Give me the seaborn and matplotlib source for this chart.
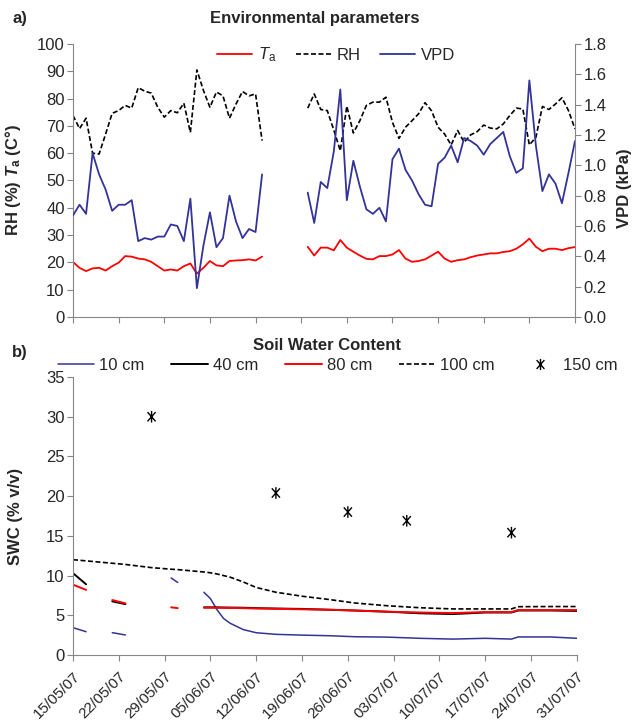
import numpy as np
import pandas as pd
import matplotlib
matplotlib.use('Agg')
import matplotlib.pyplot as plt
import matplotlib.dates as mdates
from matplotlib.lines import Line2D
from matplotlib.path import Path
import seaborn as sns

start = pd.Timestamp('2007-05-15')

# Environmental parameters, daily values, two measuring periods
env_days_1 = list(range(0, 30))    # 15/05 - 13/06
env_days_2 = list(range(36, 78))   # 20/06 - 31/07
ta_1 = [20.1, 18.0, 16.8, 17.8, 18.0, 17.0, 18.6, 19.9, 22.3, 22.1, 21.4, 21.1, 20.2, 18.6, 17.0,
        17.4, 17.0, 18.6, 19.6, 15.9, 18.0, 20.5, 18.9, 18.6, 20.5, 20.7, 20.8, 21.1, 20.7, 22.1]
ta_2 = [25.7, 22.5, 25.4, 25.4, 24.4, 28.2, 25.4, 23.9, 22.5, 21.3, 21.1, 22.3, 22.3, 22.9, 24.5,
        21.4, 20.2, 20.5, 21.1, 22.5, 23.9, 21.4, 20.2, 20.8, 21.1, 21.9, 22.5, 22.9, 23.3, 23.3,
        23.8, 24.1, 25.0, 26.6, 28.7, 25.7, 24.1, 25.0, 25.0, 24.5, 25.2, 25.6]
rh_1 = [73.8, 69.0, 72.8, 60.0, 59.7, 67.0, 74.6, 75.6, 77.5, 76.5, 84.0, 82.7, 82.0, 76.8, 73.2,
        75.6, 74.8, 78.3, 67.6, 90.5, 83.0, 76.8, 82.4, 81.0, 72.8, 78.0, 82.6, 81.0, 81.7, 64.6]
rh_2 = [76.5, 81.7, 76.0, 75.6, 68.5, 60.9, 77.2, 67.4, 71.9, 77.5, 78.7, 78.7, 80.5, 71.3, 65.4,
        69.5, 71.9, 74.4, 78.5, 75.5, 69.5, 67.0, 63.0, 68.3, 64.0, 66.7, 67.9, 70.3, 69.2, 68.9,
        70.7, 73.8, 76.5, 76.2, 63.0, 65.8, 77.1, 76.0, 78.0, 80.3, 75.6, 68.9]
vpd_1 = [0.67, 0.74, 0.68, 1.08, 0.94, 0.84, 0.70, 0.74, 0.74, 0.77, 0.50, 0.52, 0.51, 0.53, 0.53,
         0.61, 0.60, 0.50, 0.78, 0.19, 0.47, 0.69, 0.46, 0.52, 0.80, 0.63, 0.52, 0.58, 0.56, 0.94]
vpd_2 = [0.82, 0.62, 0.89, 0.85, 1.09, 1.50, 0.77, 1.03, 0.86, 0.71, 0.68, 0.72, 0.63, 1.04, 1.11,
         0.97, 0.90, 0.81, 0.74, 0.73, 1.01, 1.05, 1.13, 1.02, 1.18, 1.16, 1.13, 1.07, 1.14, 1.18,
         1.22, 1.06, 0.95, 0.98, 1.56, 1.13, 0.83, 0.94, 0.88, 0.75, 0.95, 1.16]

# Soil water content (nan = no data)
nan = np.nan
swc_days = [0, 2, 4, 6, 8, 12, 15, 16, 18, 20, 21, 22, 23, 24, 26, 28, 31, 35, 39, 43, 48, 53,
            58, 63, 67, 68, 73, 77]
swc_10 = [3.44, 2.93, nan, 2.81, 2.52, nan, 9.7, 9.13, nan, 7.9, 7.1, 5.7, 4.6, 4.0, 3.2, 2.8,
          2.6, 2.5, 2.43, 2.3, 2.25, 2.1, 2.0, 2.1, 2.0, 2.27, 2.27, 2.1]
swc_40 = [10.3, 8.9, nan, 6.75, 6.4, nan, nan, nan, nan, 6.0, 6.0, 6.0, 5.98, 5.97, 5.95, 5.9,
          5.85, 5.8, 5.7, 5.6, 5.45, 5.25, 5.15, 5.35, 5.35, 5.6, 5.6, 5.55]
swc_80 = [8.85, 8.2, nan, 6.92, 6.5, nan, 6.0, 5.9, nan, 5.95, 5.95, 5.95, 5.93, 5.92, 5.9, 5.85,
          5.82, 5.75, 5.7, 5.6, 5.45, 5.35, 5.28, 5.4, 5.4, 5.66, 5.66, 5.66]
swc_100 = [12.0, 11.85, 11.7, 11.55, 11.4, 11.0, 10.8, 10.75, 10.6, 10.45, 10.35, 10.2, 10.0, 9.8,
           9.2, 8.5, 7.9, 7.4, 7.0, 6.55, 6.2, 5.95, 5.8, 5.8, 5.8, 6.08, 6.1, 6.1]
swc150_days = [12, 31, 42, 51, 67]
swc_150 = [30.0, 20.4, 18.0, 16.9, 15.4]

BLUE = '#333399'
RED = '#ff0000'
GREY = '#868686'
DASH = (0, (3, 1.5))
FS = 12

# Excel-like star marker: an X with a vertical bar through it
STAR = Path([(-0.7, -0.8), (0.7, 0.8), (-0.7, 0.8), (0.7, -0.8), (0, -1), (0, 1)],
            [Path.MOVETO, Path.LINETO, Path.MOVETO, Path.LINETO, Path.MOVETO, Path.LINETO])


def to_frame(days, values):
    v = np.array(values, dtype=float)
    df = pd.DataFrame({'date': start + pd.to_timedelta(days, unit='D'),
                       'value': v, 'seg': np.cumsum(np.isnan(v))})
    return df.dropna()


def env_frame(v1, v2):
    return pd.concat([to_frame(env_days_1, v1).assign(seg=0),
                      to_frame(env_days_2, v2).assign(seg=1)])


sns.set_style('ticks')
plt.rcParams['font.family'] = ['Liberation Sans', 'DejaVu Sans']
plt.rcParams['mathtext.fontset'] = 'custom'
plt.rcParams['mathtext.rm'] = 'Liberation Sans'
plt.rcParams['mathtext.it'] = 'Liberation Sans:italic'
plt.rcParams['mathtext.bf'] = 'Liberation Sans:bold'
plt.rcParams['mathtext.bfit'] = 'Liberation Sans:italic:bold'

fig = plt.figure(figsize=(6.35, 7.28), dpi=100)
ax = fig.add_axes([0.115, 0.5646, 0.7905, 0.375])
ax2 = ax.twinx()
axb = fig.add_axes([0.115, 0.1003, 0.7935, 0.3818])

line_kw = dict(x='date', y='value', units='seg', estimator=None, legend=False)

# a) environmental parameters
sns.lineplot(data=env_frame(ta_1, ta_2), color=RED, linewidth=1.3, ax=ax, **line_kw)
sns.lineplot(data=env_frame(rh_1, rh_2), color='black', linewidth=1.2, linestyle=DASH, ax=ax, **line_kw)
sns.lineplot(data=env_frame(vpd_1, vpd_2), color=BLUE, linewidth=1.3, ax=ax2, **line_kw)

# b) soil water content
sns.lineplot(data=to_frame(swc_days, swc_10), color=BLUE, linewidth=1.1, ax=axb, **line_kw)
sns.lineplot(data=to_frame(swc_days, swc_40), color='black', linewidth=1.4, ax=axb, **line_kw)
sns.lineplot(data=to_frame(swc_days, swc_80), color=RED, linewidth=1.4, ax=axb, **line_kw)
sns.lineplot(data=to_frame(swc_days, swc_100), color='black', linewidth=1.2, linestyle=DASH, ax=axb, **line_kw)
df150 = to_frame(swc150_days, swc_150)
sns.scatterplot(data=df150, x='date', y='value', marker=STAR, facecolor='none', edgecolor='black',
                s=70, linewidth=1.0, ax=axb, legend=False)

ticks = pd.date_range(start, periods=12, freq='7D')
for a in (ax, ax2, axb):
    a.set_xlim(start, start + pd.Timedelta(days=77))
    a.set_xticks(ticks)
    a.xaxis.set_major_formatter(mdates.DateFormatter('%d/%m/%y'))
    a.set_xlabel('')
    a.tick_params(direction='out', length=4, width=0.8, color=GREY, labelsize=FS, pad=2)
    a.spines['top'].set_visible(False)
    for s in a.spines.values():
        s.set_color(GREY)
        s.set_linewidth(0.8)

ax.tick_params(axis='x', labelbottom=False)
ax2.tick_params(axis='x', labelbottom=False)
ax2.spines['left'].set_visible(False)
ax2.spines['bottom'].set_visible(False)
ax.spines['right'].set_visible(False)
axb.spines['right'].set_visible(False)

ax.set_ylim(0, 100)
ax.set_yticks(range(0, 101, 10))
ax2.set_ylim(0, 1.8)
ax2.set_yticks(np.arange(0, 1.81, 0.2))
ax2.yaxis.set_major_formatter(matplotlib.ticker.FormatStrFormatter('%.1f'))
axb.set_ylim(0, 35)
axb.set_yticks(range(0, 36, 5))

ax.set_ylabel(r'RH (%) $\mathbfit{T}_{\mathbf{a}}$ (C°)', fontsize=FS, fontweight='bold')
ax.yaxis.set_label_coords(-0.1, 0.5)
ax2.set_ylabel('VPD (kPa)', fontsize=FS, fontweight='bold', rotation=90)
ax2.yaxis.set_label_coords(1.083, 0.47)
axb.set_ylabel('SWC (% v/v)', fontsize=FS, fontweight='bold')
axb.yaxis.set_label_coords(-0.1, 0.5)

for lab in axb.get_xticklabels():
    lab.set_rotation(45)
    lab.set_ha('right')
    lab.set_rotation_mode('anchor')
axb.tick_params(axis='x', labelsize=11, pad=6)

fig.text(0.496, 0.975, 'Environmental parameters', ha='center', va='center', fontsize=FS, fontweight='bold')
fig.text(0.019, 0.975, 'a)', ha='left', va='center', fontsize=FS, fontweight='bold')
fig.text(0.515, 0.526, 'Soil Water Content', ha='center', va='center', fontsize=FS, fontweight='bold')
fig.text(0.019, 0.5155, 'b)', ha='left', va='center', fontsize=FS, fontweight='bold')

top_handles = [Line2D([], [], color=RED, lw=1.3),
               Line2D([], [], color='black', lw=1.2, linestyle=DASH),
               Line2D([], [], color=BLUE, lw=1.3)]
ax2.legend(top_handles, [r'$\mathit{T}_{\mathrm{a}}$', 'RH', 'VPD'], loc='center',
           bbox_to_anchor=(0.529, 0.9245), bbox_transform=fig.transFigure, ncol=3,
           frameon=False, fontsize=FS, handlelength=2.1, handletextpad=0.35, columnspacing=1.15)

bot_handles = [Line2D([], [], color=BLUE, lw=1.1),
               Line2D([], [], color='black', lw=1.4),
               Line2D([], [], color=RED, lw=1.4),
               Line2D([], [], color='black', lw=1.2, linestyle=DASH),
               Line2D([], [], color='black', lw=1.0, linestyle='', marker=STAR, markersize=8,
                      markerfacecolor='none', markeredgecolor='black', markeredgewidth=1.0)]
axb.legend(bot_handles, ['10 cm', '40 cm', '80 cm', '100 cm', '150 cm'], loc='center',
           bbox_to_anchor=(0.532, 0.4986), bbox_transform=fig.transFigure, ncol=5,
           frameon=False, fontsize=FS, handlelength=2.2, handletextpad=0.3, columnspacing=1.6)

fig.savefig('out.png', dpi=100)
